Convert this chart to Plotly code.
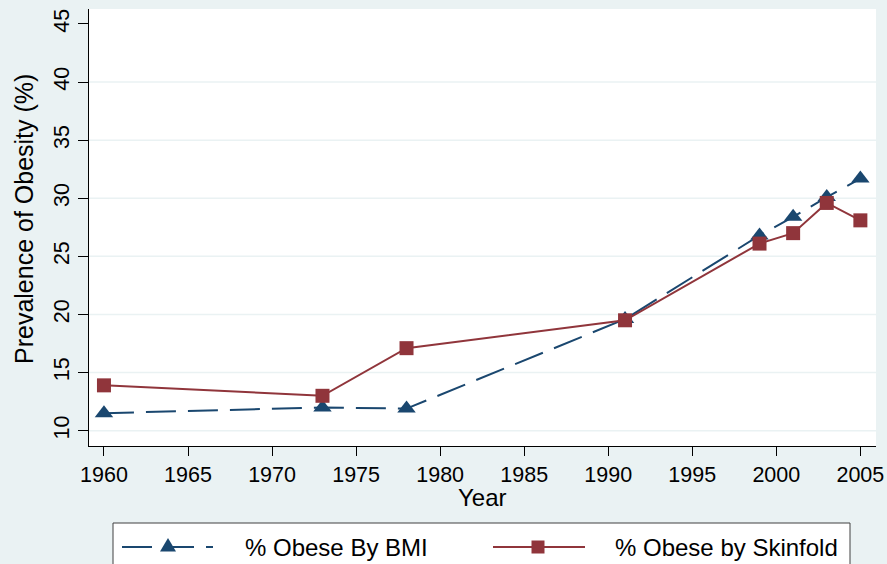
import plotly.graph_objects as go

# Survey years and obesity prevalence (%) by the two measures
years = [1960, 1973, 1978, 1991, 1999, 2001, 2003, 2005]
bmi = [11.5, 12.0, 11.9, 19.6, 26.8, 28.4, 30.1, 31.7]
skinfold = [13.9, 13.0, 17.1, 19.5, 26.1, 27.0, 29.6, 28.1]

series_names = ["% Obese By BMI", "% Obese by Skinfold"]
x_ticks = list(range(1960, 2006, 5))
y_ticks = list(range(10, 46, 5))
grid_vals = list(range(10, 41, 5))

NAVY = "#1A476F"
MAROON = "#90353B"
BG = "#EAF2F3"
FONT = "Liberation Sans, Arial, sans-serif"

W, H = 887, 564
ML, MR, MT, MB = 89, 11, 9, 118
PW, PH = W - ML - MR, H - MT - MB


def fx(px):
    """pixel x -> paper x"""
    return (px - ML) / PW


def fy(py):
    """pixel y -> paper y"""
    return (H - MB - py) / PH


BMI_DASH = "30px,12px"

fig = go.Figure()
fig.add_trace(go.Scatter(
    x=years, y=bmi, mode="lines+markers", name=series_names[0],
    line=dict(color=NAVY, width=2, dash=BMI_DASH),
    marker=dict(symbol="triangle-up", size=16, color=NAVY),
))
fig.add_trace(go.Scatter(
    x=years, y=skinfold, mode="lines+markers", name=series_names[1],
    line=dict(color=MAROON, width=2),
    marker=dict(symbol="square", size=14, color=MAROON),
))

shapes = []
# horizontal grid lines
for v in grid_vals:
    shapes.append(dict(type="line", xref="paper", yref="y", x0=0, x1=1, y0=v, y1=v,
                       line=dict(color=BG, width=1.5), layer="below"))

# legend frame
shapes.append(dict(type="rect", xref="paper", yref="paper",
                   x0=fx(113), x1=fx(850), y0=fy(523), y1=fy(600),
                   line=dict(color="#404040", width=1), fillcolor="white", layer="above"))

ly = fy(547)
# legend key lines
shapes.append(dict(type="line", xref="paper", yref="paper", x0=fx(122), x1=fx(213), y0=ly, y1=ly,
                   line=dict(color=NAVY, width=2, dash=BMI_DASH), layer="above"))
shapes.append(dict(type="line", xref="paper", yref="paper", x0=fx(493), x1=fx(585), y0=ly, y1=ly,
                   line=dict(color=MAROON, width=2), layer="above"))
# legend key markers
shapes.append(dict(type="path", xref="paper", yref="paper", xsizemode="pixel", ysizemode="pixel",
                   xanchor=fx(168), yanchor=ly,
                   path="M -8,-4.5 L 8,-4.5 L 0,9 Z",
                   fillcolor=NAVY, line=dict(width=0), layer="above"))
shapes.append(dict(type="path", xref="paper", yref="paper", xsizemode="pixel", ysizemode="pixel",
                   xanchor=fx(538), yanchor=ly,
                   path="M -6.5,-6.5 L 6.5,-6.5 L 6.5,6.5 L -6.5,6.5 Z",
                   fillcolor=MAROON, line=dict(width=0), layer="above"))

annotations = [
    dict(text=series_names[0], xref="paper", yref="paper", x=fx(243), y=ly,
         xanchor="left", yanchor="middle", showarrow=False, font=dict(size=24, color="black")),
    dict(text=series_names[1], xref="paper", yref="paper", x=fx(613), y=ly,
         xanchor="left", yanchor="middle", showarrow=False, font=dict(size=24, color="black")),
    dict(text="Year", xref="paper", yref="paper", x=fx(482), y=fy(497),
         xanchor="center", yanchor="middle", showarrow=False, font=dict(size=24, color="black")),
    dict(text="Prevalence of Obesity (%)", xref="paper", yref="paper", x=fx(24), y=fy(219),
         xanchor="center", yanchor="middle", textangle=-90, showarrow=False,
         font=dict(size=25, color="black")),
]

fig.update_layout(
    width=W, height=H,
    paper_bgcolor=BG, plot_bgcolor="white",
    margin=dict(l=ML, r=MR, t=MT, b=MB, pad=0, autoexpand=False),
    showlegend=False,
    font=dict(family=FONT, color="black"),
    shapes=shapes, annotations=annotations,
)
fig.update_xaxes(
    range=[1959.11, 2005.93], tickvals=x_ticks, ticks="outside", ticklen=9,
    tickcolor="black", tickwidth=1, showline=True, linecolor="black", linewidth=1,
    showgrid=False, zeroline=False, automargin=False,
    tickfont=dict(size=21.5, color="black"),
)
fig.update_yaxes(
    range=[8.68, 46.29], tickvals=y_ticks, ticks="outside", ticklen=10, tickangle=-90,
    tickcolor="black", tickwidth=1, showline=True, linecolor="black", linewidth=1,
    showgrid=False, zeroline=False, automargin=False,
    tickfont=dict(size=21.5, color="black"),
)

fig.write_html("out.html")
